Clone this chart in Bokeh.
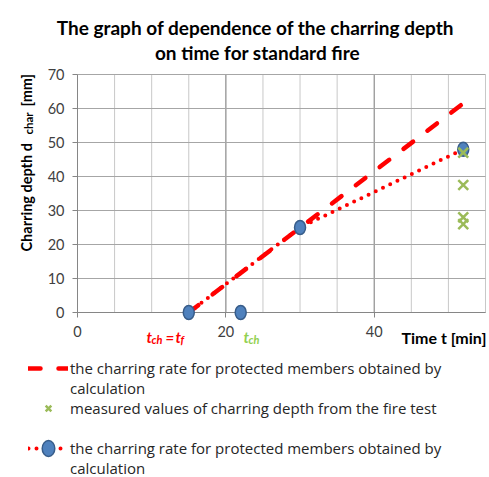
import math
from bokeh.plotting import figure
from bokeh.models import Label, Legend, LegendItem, FixedTicker, Range1d
from bokeh.embed import file_html
from bokeh.resources import INLINE

# ---------------- data ----------------
calc_x = [15, 52]          # dashed calculated charring rate
calc_y = [0, 61.5]
rate_x = [15, 30, 52]      # dotted charring rate with markers
rate_y = [0, 25, 48]
tch_x = [22]               # t_ch point
tch_y = [0]
meas_x = [52, 52, 52, 52]  # measured values from fire test
meas_y = [47, 37.5, 28, 26]
x_ticks = [0, 20, 40]
y_ticks = [0, 10, 20, 30, 40, 50, 60, 70]
x_grid_minor = [0, 5, 10, 15, 20, 25, 30, 35, 40, 45, 50, 55]
x_grid_major = [20, 40]
X_MIN, X_MAX = 0, 55
Y_MIN, Y_MAX = 0, 70

title_1 = "The graph of dependence of the charring depth"
title_2 = "on time for standard fire"
legend_calc_1 = "the charring rate for protected members obtained by"
legend_calc_2 = "calculation"
legend_meas = "measured values of charring depth from the fire test"

# ---------------- layout ----------------
W, H = 489, 477
FL, FR, FT, FB = 77, 485, 74, 312   # chart area edges in canvas px
sx = (FR - FL) / (X_MAX - X_MIN)
sy = (FB - FT) / (Y_MAX - Y_MIN)
x_range = Range1d(X_MIN - FL / sx, X_MAX + (W - FR) / sx)
y_range = Range1d(Y_MIN - (H - FB) / sy, Y_MAX + FT / sy)

p = figure(width=W, height=H, title=None, x_range=x_range, y_range=y_range,
           output_backend="svg", toolbar_location=None,
           min_border=0, min_border_left=0, min_border_right=0,
           min_border_top=0, min_border_bottom=0)
p.outline_line_color = None
p.background_fill_color = "white"
p.border_fill_color = "white"
p.xgrid.visible = False
p.ygrid.visible = False

FONT = "Lato"
LFONT = "Open Sans"
AX = "#868686"
for ax in (p.xaxis[0], p.yaxis[0]):
    ax.axis_line_color = AX
    ax.major_tick_line_color = AX
    ax.minor_tick_line_color = None
    ax.major_tick_out = 5
    ax.major_tick_in = 0
    ax.major_label_text_font = FONT
    ax.major_label_text_font_size = "14.5px"
    ax.major_label_text_color = "#404040"
    ax.level = "underlay"
p.xaxis.ticker = FixedTicker(ticks=x_ticks)
p.yaxis.ticker = FixedTicker(ticks=y_ticks)
p.xaxis.fixed_location = Y_MIN
p.yaxis.fixed_location = X_MIN
p.xaxis.bounds = (X_MIN, X_MAX)
p.yaxis.bounds = (Y_MIN, Y_MAX)
p.xaxis.major_label_standoff = 8
p.yaxis.major_label_standoff = 8

# grid lines limited to the chart area
n_xm = len(x_grid_minor)
p.segment(x0=x_grid_minor, y0=[Y_MIN] * n_xm, x1=x_grid_minor, y1=[Y_MAX] * n_xm,
          line_color="#c8c8c8", line_width=1, level="underlay")
n_xM = len(x_grid_major)
p.segment(x0=x_grid_major, y0=[Y_MIN] * n_xM, x1=x_grid_major, y1=[Y_MAX] * n_xM,
          line_color="#8c8c8c", line_width=1, level="underlay")
n_y = len(y_ticks)
p.segment(x0=[X_MIN] * n_y, y0=y_ticks, x1=[X_MAX] * n_y, y1=y_ticks,
          line_color="#a6a6a6", line_width=1, level="underlay")

# ---------------- glyphs ----------------
dash = p.line(calc_x, calc_y, line_color="#ff0000", line_width=4.5,
              line_dash="12 18", line_cap="round")
dot = p.line(rate_x, rate_y, line_color="#ff0000", line_width=4,
             line_dash="0 8", line_cap="round")
blue = p.ellipse(rate_x, rate_y, width=11, height=14, width_units="screen",
                 height_units="screen", fill_color="#4f81bd",
                 line_color="#385d8a", line_width=1.5)
p.ellipse(tch_x, tch_y, width=11, height=14, width_units="screen",
          height_units="screen", fill_color="#4f81bd",
          line_color="#385d8a", line_width=1.5)
meas = p.scatter(meas_x, meas_y, marker="x", size=14, line_color="#9bbb59",
                 line_width=2.5)

# ---------------- legend ----------------
ITEM_H = 20
items = [
    LegendItem(label=legend_calc_1, renderers=[dash]),
    LegendItem(label=legend_calc_2, renderers=[]),
    LegendItem(label=legend_meas, renderers=[meas]),
    LegendItem(label=" ", renderers=[]),
    LegendItem(label=legend_calc_1, renderers=[dot, blue]),
    LegendItem(label=legend_calc_2, renderers=[]),
]
legend = Legend(items=items, location=(28, H - 358 - ITEM_H * len(items)),
                orientation="vertical",
                glyph_width=40, glyph_height=ITEM_H, label_height=ITEM_H,
                spacing=0, label_standoff=2, padding=0, margin=0,
                border_line_color=None, background_fill_alpha=0,
                label_text_font=LFONT, label_text_font_size="15px",
                label_text_color="#262626")
p.add_layout(legend, "center")


# ---------------- labels (canvas px, origin top-left) ----------------
def lab(text, px, py, size, color="black", style="normal", align="left",
        baseline="alphabetic", angle=0.0, font=FONT):
    p.add_layout(Label(text=text, x=px, y=H - py,
                       x_units="screen", y_units="screen",
                       text_font=font, text_font_size=f"{size}px",
                       text_font_style=style, text_color=color,
                       text_align=align, text_baseline=baseline,
                       angle=angle))


lab(title_1, 255, 27, 19, style="bold", align="center")
lab(title_2, 257, 52, 19, style="bold", align="center")

# y-axis title with subscript
lab("Charring depth  d", 26, 251, 14.5, style="bold", angle=math.pi / 2)
lab("char", 28, 134, 11.5, style="bold", angle=math.pi / 2)
lab("[mm]", 26, 106, 14.5, style="bold", angle=math.pi / 2)

# x-axis title
lab("Time t [min]", 401, 337, 16, style="bold")

# t_ch = t_f annotation (red) and t_ch (green)
RED = "#ff0000"
GREEN = "#92d050"
lab("t", 146, 336, 15, RED, "bold italic")
lab("ch", 151, 339, 11, RED, "bold italic")
lab("=", 165, 336, 15, RED, "bold italic")
lab("t", 175, 336, 15, RED, "bold italic")
lab("f", 180, 339, 11, RED, "bold italic")
lab("t", 243, 336, 15, GREEN, "bold italic")
lab("ch", 248, 339, 11, GREEN, "bold italic")

open("out.html", "w").write(file_html(p, INLINE))
